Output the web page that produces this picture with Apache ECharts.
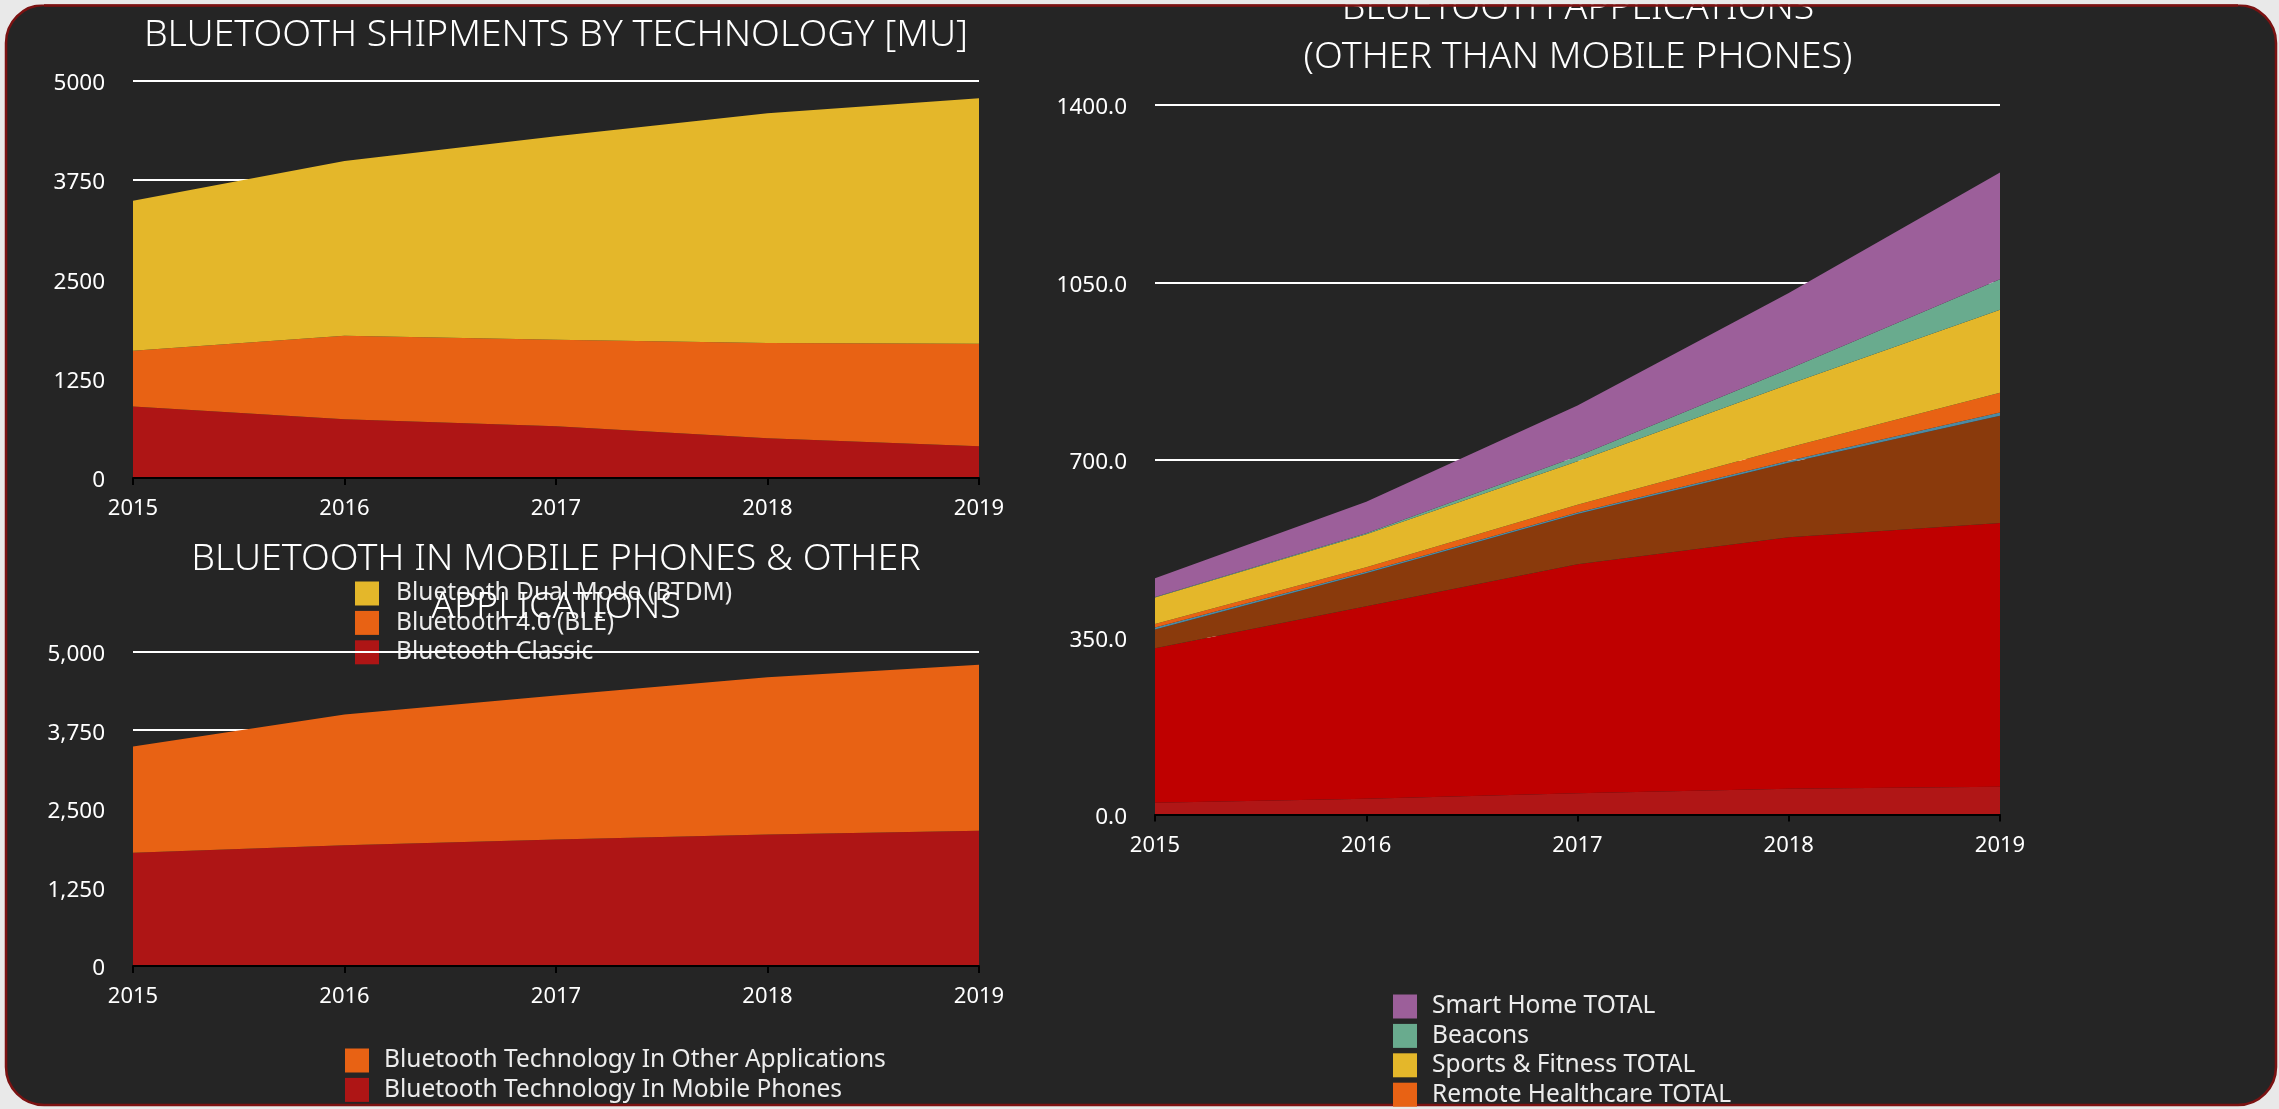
<!DOCTYPE html>
<html>
<head>
<meta charset="utf-8">
<title>Bluetooth</title>
<script src="https://cdn.jsdelivr.net/npm/echarts@6/dist/echarts.min.js"></script>
<style>
html, body { margin: 0; padding: 0; background: #e9e9e9; }
#main { width: 2279px; height: 1109px; }
</style>
</head>
<body>
<div id="main"></div>
<script>
// years on every x axis
var years = ['2015', '2016', '2017', '2018', '2019'];

// shipments by technology [MU]
var techClassic = [900, 740, 650, 500, 400];
var techBle = [700, 1050, 1090, 1200, 1290];
var techDualMode = [1890, 2200, 2560, 2890, 3090];

// mobile phones vs other applications
var phonesMobile = [1800, 1920, 2010, 2090, 2150];
var phonesOther = [1690, 2080, 2290, 2500, 2640];

// applications other than mobile phones (bottom of stack first)
var appsBase = [23, 31, 42, 51, 55];
var appsMain = [305, 380, 452, 496, 520];
var appsSecond = [37, 65, 99, 147, 212];
var appsThird = [4, 3, 3, 4, 6];
var healthcare = [7, 9, 15, 26, 39];
var sportsFitness = [52, 65, 86, 125, 164];
var beacons = [1, 2, 10, 30, 60];
var smartHome = [37, 62, 100, 150, 211];

var yellow = '#e4b72a', orange = '#e86214', darkRed = '#ae1515';
var font = 'Noto Sans';

var myChart = echarts.init(document.getElementById('main'));

function area(name, color, data, idx) {
    return {
        name: name,
        type: 'line',
        xAxisIndex: idx,
        yAxisIndex: idx,
        stack: 'st' + idx,
        data: data,
        symbol: 'none',
        silent: true,
        lineStyle: { width: 0 },
        itemStyle: { color: color },
        areaStyle: { color: color, opacity: 1 }
    };
}

function xAxis(idx) {
    return {
        type: 'category',
        gridIndex: idx,
        data: years,
        boundaryGap: false,
        z: 5,
        axisLine: { lineStyle: { color: '#000', width: 2 } },
        axisTick: { length: 7, lineStyle: { color: '#000', width: 2 } },
        axisLabel: { color: '#fff', fontSize: 22, margin: 20, fontFamily: font },
        splitLine: { show: false }
    };
}

function yAxis(idx, max, interval, fmt) {
    return {
        type: 'value',
        gridIndex: idx,
        min: 0,
        max: max,
        interval: interval,
        axisLine: { show: false },
        axisTick: { show: false },
        axisLabel: {
            color: '#fff', fontSize: 22.5, margin: 28, fontFamily: font,
            verticalAlign: 'top', lineHeight: 22, padding: [-8, 0, 0, 0], formatter: fmt
        },
        splitLine: { lineStyle: { color: '#fff', width: 2 } }
    };
}

function titleLine(text, x, y) {
    return {
        type: 'text',
        z: 10,
        style: {
            text: text,
            x: x,
            y: y,
            align: 'center',
            verticalAlign: 'middle',
            fill: '#fff',
            font: '300 37.5px "Noto Sans"'
        }
    };
}

function legend(names, left, top, gap) {
    return {
        data: names,
        orient: 'vertical',
        left: left,
        top: top,
        height: 400,
        padding: 0,
        icon: 'rect',
        itemWidth: 24,
        itemHeight: 24,
        itemGap: 4.4,
        selectedMode: false,
        textStyle: { color: '#ececec', fontSize: 24.5, fontFamily: font, padding: [0, 0, 0, gap] }
    };
}

option = {
    animation: false,
    textStyle: { fontFamily: font },
    graphic: [
        {
            type: 'rect', z: -100,
            shape: { x: 6, y: 5, width: 2270, height: 1100, r: 38 },
            style: { fill: '#252525', stroke: '#7b1212', lineWidth: 2.5 }
        },
        titleLine('BLUETOOTH SHIPMENTS BY TECHNOLOGY [MU]', 556, 35),
        titleLine('BLUETOOTH IN MOBILE PHONES & OTHER', 556, 559),
        titleLine('APPLICATIONS', 556, 607),
        titleLine('BLUETOOTH APPLICATIONS', 1578, 8),
        titleLine('(OTHER THAN MOBILE PHONES)', 1578, 57),
        {
            type: 'rect', z: 100,
            shape: { x: 0, y: 0, width: 2279, height: 4.5 },
            style: { fill: '#e9e9e9' }
        },
        {
            type: 'line', z: 101,
            shape: { x1: 44, y1: 5.5, x2: 2238, y2: 5.5 },
            style: { stroke: '#7b1212', lineWidth: 2.5 }
        }
    ],
    legend: [
        Object.assign(legend(['Bluetooth Dual Mode (BTDM)', 'Bluetooth 4.0 (BLE)', 'Bluetooth Classic'], 355, 581, 12), { z: -1 }),
        legend(['Bluetooth Technology In Other Applications', 'Bluetooth Technology In Mobile Phones'], 345, 1048, 10),
        legend(['Smart Home TOTAL', 'Beacons', 'Sports & Fitness TOTAL', 'Remote Healthcare TOTAL'], 1393, 994, 10)
    ],
    grid: [
        { left: 133, top: 80.7, width: 846, height: 397.3 },
        { left: 133, top: 651.5, width: 846, height: 314.5 },
        { left: 1155, top: 105, width: 845, height: 709.5 }
    ],
    xAxis: [xAxis(0), xAxis(1), xAxis(2)],
    yAxis: [
        yAxis(0, 5000, 1250, function (v) { return String(v); }),
        yAxis(1, 5000, 1250, function (v) { return v.toLocaleString('en-US'); }),
        yAxis(2, 1400, 350, function (v) { return v.toFixed(1); })
    ],
    series: [
        area('Bluetooth Classic', darkRed, techClassic, 0),
        area('Bluetooth 4.0 (BLE)', orange, techBle, 0),
        area('Bluetooth Dual Mode (BTDM)', yellow, techDualMode, 0),

        area('Bluetooth Technology In Mobile Phones', darkRed, phonesMobile, 1),
        area('Bluetooth Technology In Other Applications', orange, phonesOther, 1),

        area('Other 1', '#b01616', appsBase, 2),
        area('Other 2', '#bf0000', appsMain, 2),
        area('Other 3', '#8a3a0c', appsSecond, 2),
        area('Other 4', '#4d8aa3', appsThird, 2),
        area('Remote Healthcare TOTAL', orange, healthcare, 2),
        area('Sports & Fitness TOTAL', yellow, sportsFitness, 2),
        area('Beacons', '#69ab8e', beacons, 2),
        area('Smart Home TOTAL', '#9c5f9a', smartHome, 2)
    ]
};
myChart.setOption(option);
</script>
</body>
</html>
